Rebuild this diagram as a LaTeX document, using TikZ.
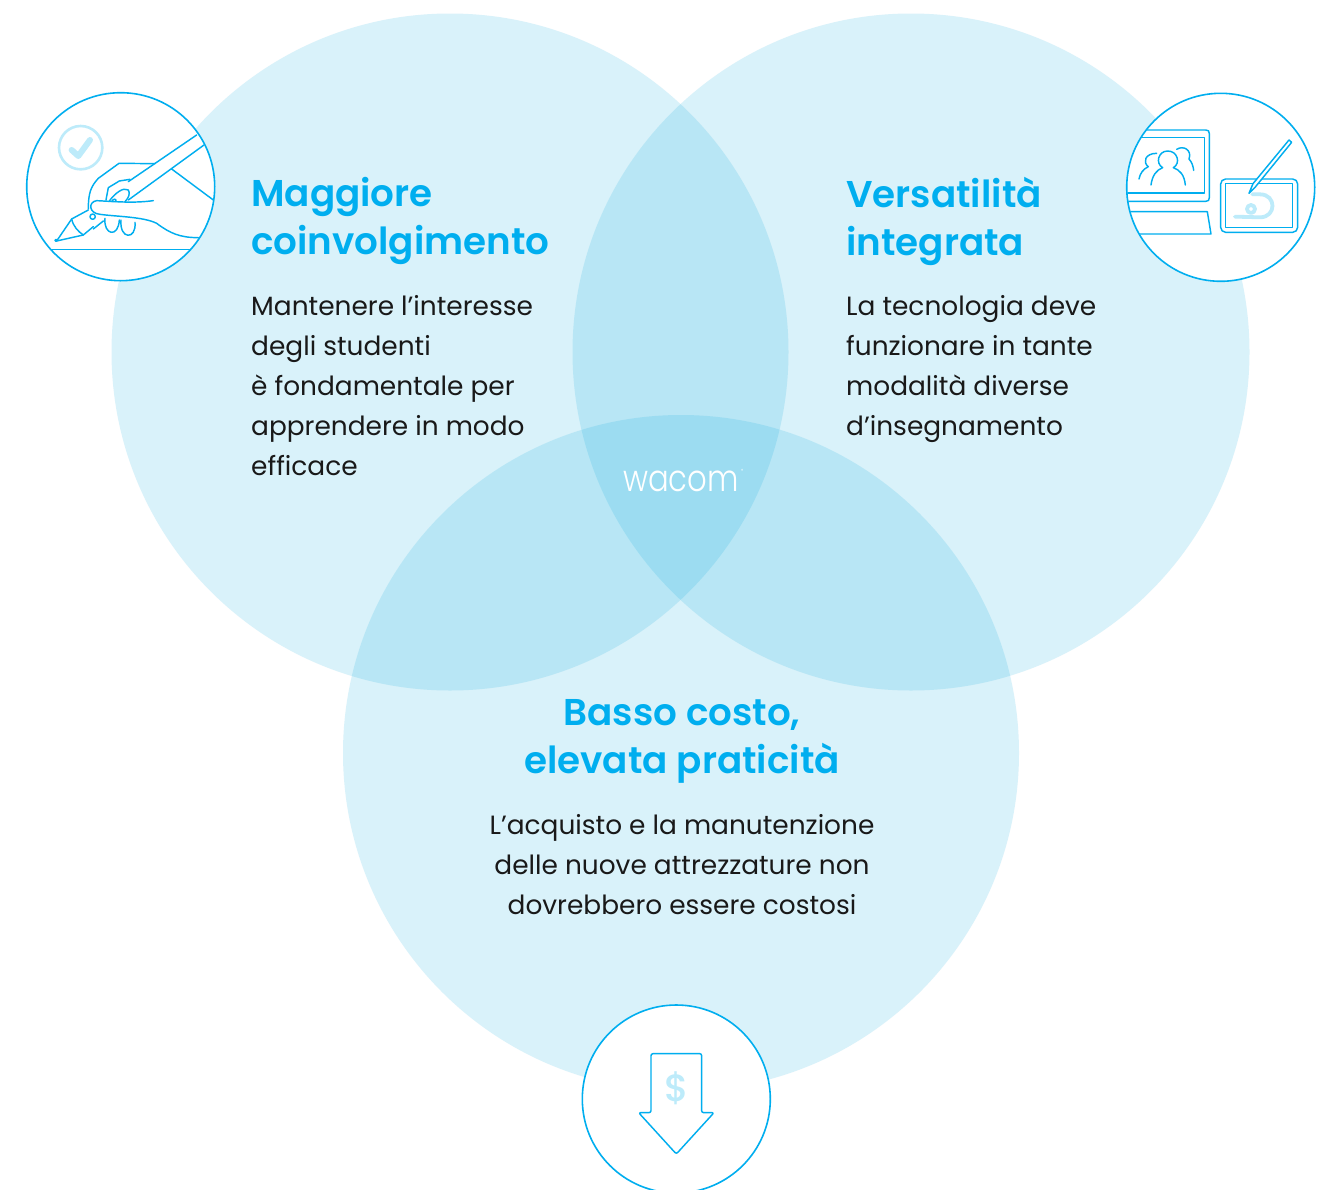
\documentclass[tikz,border=0pt]{standalone}
\usepackage{graphicx}
\usepackage{fontspec}
\setmainfont{Poppins}
\newfontfamily\lightfont[UprightFont=* Light]{Poppins}
\newfontfamily\medfont[UprightFont=* Medium]{Poppins}
\newfontfamily\semifont[UprightFont=* SemiBold]{Poppins}
\definecolor{wblue}{HTML}{00AEEF}
\definecolor{wvenn}{HTML}{00A8DE}
\definecolor{wlight}{HTML}{BDEBFA}
\tikzset{
  venn/.style={fill=wvenn,fill opacity=.15,draw=none},
  disc/.style={circle,fill=white,draw=wblue,line width=1.6pt,minimum size=188pt,inner sep=0pt},
  ttl/.style={text=wblue,font=\fontsize{37.3}{48}\semifont,inner sep=0pt},
  body/.style={text=black!90,font=\fontsize{26.4}{40}\selectfont,inner sep=0pt},
  ico/.style={draw=wblue,line width=1.45pt,line join=round,line cap=round},
  icolight/.style={draw=wlight,line cap=round,line join=round},
  zoomed/.style={x=.3333pt,y=-.3333pt}
}
\begin{document}
\begin{tikzpicture}[x=1pt,y=-1pt]
\useasboundingbox (0,0) rectangle (1325,1189);
\fill[white] (0,0) rectangle (1325,1189);
\fill[venn] (450,352) circle[radius=338.5];
\fill[venn] (911,352) circle[radius=338.5];
\fill[venn] (681,753) circle[radius=338];

% text
\node[ttl,anchor=north west,align=left] (t1) at (251,177) {Maggiore\\coinvolgimento};
\node[body,anchor=north west,align=left] (b1) at (251,295) {Mantenere l’interesse\\degli studenti\\è fondamentale per\\apprendere in modo\\efficace};
\node[ttl,anchor=north west,align=left] (t2) at (846,177) {Versatilità\\integrata};
\node[body,anchor=north west,align=left] (b2) at (846,295) {La tecnologia deve\\funzionare in tante\\modalità diverse\\d’insegnamento};
\node[ttl,anchor=north,align=center] (t3) at (682,699) {Basso costo,\\elevata praticità};
\node[body,anchor=north,align=center] (b3) at (682,814) {L’acquisto e la manutenzione\\delle nuove attrezzature non\\dovrebbero essere costosi};
\node[text=white,inner sep=0pt,font=\fontsize{37}{37}\lightfont] (logo) at (681,481) {\scalebox{.83}[1]{wacom}};
\node[text=white,inner sep=0pt,anchor=west,font=\fontsize{4.5}{5}\selectfont] (reg) at (741,471) {®};

% left icon
\node[disc] (c1) at (120.7,186.7) {};
\begin{scope}
\clip (c1.center) circle[radius=93.5];
\begin{scope}[shift={(20,85)},zoomed]
\draw[icolight,line width=2.6pt] (182,188) circle[radius=65];
\draw[icolight,line width=6pt] (155,195) -- (175,213) -- (210,165);
\draw[ico] (92,494) -- (513,494);
\draw[ico] (530,150) -- (325,290);
\draw[ico] (552,180) -- (325,345);
\draw[ico] (455,252) -- (580,345);
\draw[ico] (405,236) -- (297,235) -- (235,280) .. controls (212,305) and (205,325) .. (205,372);
\draw[ico] (110,468) -- (155,402) -- (205,375);
\draw[ico] (110,468) -- (190,450) -- (220,425);
\draw[ico] (155,402) .. controls (160,425) and (175,440) .. (190,450);
\draw[ico] (108,466) circle[radius=3];
\draw[ico] (218,395) circle[radius=8];
\draw[ico] (220,432) -- (250,408);
\draw[ico] (400,347) .. controls (340,355) and (290,350) .. (230,347) .. controls (205,350) and (205,385) .. (240,388) .. controls (290,395) and (370,395) .. (410,415) .. controls (450,445) and (480,458) .. (535,458);
\draw[ico] (255,400) .. controls (250,450) and (295,460) .. (298,405);
\draw[ico] (303,405) .. controls (298,465) and (350,465) .. (345,412);
\draw[ico] (258,345) -- (265,308) -- (298,288) -- (330,283);
\draw[ico] (268,348) .. controls (285,325) and (310,305) .. (325,315) .. controls (332,325) and (325,340) .. (315,350);
\draw[ico] (275,350) .. controls (280,340) and (290,340) .. (288,350);
\end{scope}
\end{scope}

% right icon
\node[disc] (c2) at (1220.7,187.3) {};
\begin{scope}
\clip (c2.center) circle[radius=93.5];
\begin{scope}[shift={(1115,85)},zoomed]
\draw[ico] (60,135) -- (272,135) .. controls (280,135) and (283,138) .. (283,146) -- (283,338) .. controls (283,346) and (280,349) .. (272,349) -- (30,349);
\draw[ico] (60,158) -- (268,158) -- (268,324) -- (30,324);
\draw[ico] (30,380) -- (277,380) -- (288,447) -- (60,447);
% people
\draw[ico] (108,300) .. controls (112,270) and (125,255) .. (143,248) .. controls (120,235) and (130,198) .. (158,198) .. controls (188,198) and (198,235) .. (175,248) .. controls (195,255) and (208,270) .. (211,300);
\draw[ico] (72,282) .. controls (75,265) and (85,252) .. (100,245) .. controls (82,232) and (90,205) .. (125,205);
\draw[ico] (185,193) .. controls (205,180) and (232,195) .. (222,222) .. controls (230,230) and (235,245) .. (236,256);
% tablet
\draw[ico,rounded corners=5pt] (317,282) rectangle (548,442);
\draw[ico] (332,296) rectangle (532,428);
\draw[icolight,line width=3.8pt] (360,395) -- (435,397) .. controls (485,397) and (485,328) .. (435,328) -- (412,328);
\draw[icolight,line width=3.8pt] (408,372) circle[radius=12];
\draw[ico,fill=white] (402,325) -- (414,296) -- (522,165) -- (530,172) -- (421,306) -- cycle;
\end{scope}
\end{scope}

% bottom icon
\node[disc] (c3) at (676.3,1099) {};
\begin{scope}[shift={(575,995)},zoomed]
\draw[ico,rounded corners=2pt] (228,353) -- (228,176) -- (380,176) -- (380,353) -- (417,353) -- (304,477) -- (191,353) -- cycle;
\node[text=wlight,inner sep=0pt,font=\fontsize{38}{38}\medfont] (dollar) at (305,280) {\$};
\end{scope}
\end{tikzpicture}
\end{document}
